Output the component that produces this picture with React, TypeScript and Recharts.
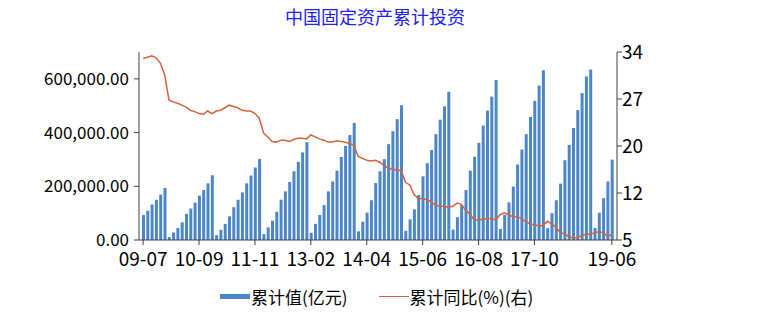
import React from 'react';
import { ComposedChart, Bar, Line, XAxis, YAxis } from 'recharts';

// month labels, Jan is never reported on its own (Jan-Feb combined)
const MONTHS_2009 = ['07', '08', '09', '10', '11', '12'];
const MONTHS_YEAR = ['02', '03', '04', '05', '06', '07', '08', '09', '10', '11', '12'];
const MONTHS_2019 = ['02', '03', '04', '05', '06'];
const FULL_YEARS = ['10', '11', '12', '13', '14', '15', '16', '17', '18'];

const CATEGORIES: string[] = [
  ...MONTHS_2009.map((m) => `09-${m}`),
  ...FULL_YEARS.flatMap((y) => MONTHS_YEAR.map((m) => `${y}-${m}`)),
  ...MONTHS_2019.map((m) => `19-${m}`),
];

// 累计值 (亿元)
const CUM_VALUE = [
  93000, 109000, 132000, 150000, 169000, 194000, // 2009
  11000, 28000, 45000, 66000, 97000, 117000, 139000, 165000, 186000, 211000, 241000, // 2010
  18000, 38000, 60000, 88000, 122000, 150000, 177000, 211000, 240000, 270000, 302000, // 2011
  22000, 47000, 72000, 105000, 150000, 181000, 216000, 256000, 291000, 326000, 364000, // 2012
  27000, 60000, 93000, 130000, 181000, 218000, 258000, 309000, 350000, 391000, 436000, // 2013
  32000, 68000, 102000, 148000, 212000, 256000, 301000, 357000, 405000, 450000, 502000, // 2014
  34000, 77000, 114000, 167000, 237000, 286000, 335000, 394000, 448000, 498000, 552000, // 2015
  39000, 85000, 130000, 186000, 258000, 310000, 362000, 426000, 482000, 534000, 596000, // 2016
  41000, 94000, 140000, 199000, 281000, 337000, 394000, 458000, 518000, 575000, 632000, // 2017
  44000, 100000, 148000, 210000, 297000, 354000, 417000, 484000, 547000, 609000, 635000, // 2018
  44800, 101900, 155700, 218000, 299100, // 2019
];

// 累计同比 (%)
const CUM_YOY = [
  33.0, 33.2, 33.4, 33.1, 32.3, 30.5,
  26.6, 26.3, 26.1, 25.8, 25.5, 25.0, 24.8, 24.5, 24.4, 24.9, 24.5,
  24.9, 25.0, 25.4, 25.8, 25.6, 25.4, 25.0, 24.9, 24.9, 24.5, 23.8,
  21.5, 20.9, 20.2, 20.1, 20.4, 20.4, 20.2, 20.5, 20.7, 20.7, 20.6,
  21.2, 20.9, 20.6, 20.4, 20.1, 20.1, 20.3, 20.2, 20.1, 19.9, 19.6,
  17.9, 17.6, 17.3, 17.2, 17.3, 17.0, 16.5, 16.1, 15.9, 15.8, 15.7,
  13.9, 13.5, 12.0, 11.4, 11.4, 11.2, 10.9, 10.3, 10.2, 10.2, 10.0,
  10.2, 10.7, 10.5, 9.6, 9.0, 8.1, 8.1, 8.2, 8.3, 8.3, 8.1,
  8.9, 9.2, 8.9, 8.6, 8.6, 8.3, 7.8, 7.5, 7.3, 7.2, 7.2,
  7.9, 7.5, 7.0, 6.1, 6.0, 5.5, 5.3, 5.4, 5.7, 5.9, 5.9,
  6.1, 6.3, 6.1, 5.6, 5.8,
];

const X_TICKS = ['09-07', '10-09', '11-11', '13-02', '14-04', '15-06', '16-08', '17-10', '19-06'];
const LEFT_TICKS = [0, 200000, 400000, 600000];
const RIGHT_TICKS = [5, 12.25, 19.5, 26.75, 34];

const LEFT_MINOR = Array.from({ length: 22 }, (_, i) => (i * 700000) / 21);
const RIGHT_MINOR = Array.from({ length: 13 }, (_, i) => 5 + (i * 29) / 12);

const data = CATEGORIES.map((month, i) => ({ month, value: CUM_VALUE[i], yoy: CUM_YOY[i] }));

const AXIS = '#404040';
const BAR_COLOR = '#4A86C8';
const LINE_COLOR = '#D8603A';
const FONT = '"Noto Sans CJK SC", "Noto Sans", sans-serif';

const fmtLeft = (v: number) => v.toLocaleString('en-US', { minimumFractionDigits: 2, maximumFractionDigits: 2 });

export default function App() {
  return (
    <div style={{ position: 'absolute', left: 0, top: 0, width: 767, height: 334, background: '#fff', fontFamily: FONT }}>
      <div style={{ position: 'absolute', top: 3, left: 0, width: 750, textAlign: 'center', fontSize: 18, color: '#2020F0' }}>
        中国固定资产累计投资
      </div>
      <ComposedChart width={767} height={334} data={data} margin={{ top: 52, right: 0, bottom: 64, left: 0 }}>
        <XAxis
          dataKey="month"
          ticks={X_TICKS}
          interval={0}
          tickSize={5}
          tickMargin={8}
          padding={{ left: 2, right: 3 }}
          height={30}
          axisLine={{ stroke: AXIS }}
          tickLine={{ stroke: AXIS }}
          tick={{ fill: '#000', fontSize: 19 }}
        />
        <YAxis
          yAxisId="leftMinor"
          width={0}
          domain={[0, 700000]}
          ticks={LEFT_MINOR}
          tick={false}
          tickSize={3}
          axisLine={false}
          tickLine={{ stroke: AXIS }}
        />
        <YAxis
          yAxisId="left"
          width={139}
          domain={[0, 700000]}
          ticks={LEFT_TICKS}
          tickFormatter={fmtLeft}
          tickSize={5}
          tickMargin={5}
          axisLine={{ stroke: AXIS }}
          tickLine={{ stroke: AXIS }}
          tick={{ fill: '#000', fontSize: 17 }}
        />
        <YAxis
          yAxisId="rightMinor"
          orientation="right"
          width={0}
          domain={[5, 34]}
          ticks={RIGHT_MINOR}
          tick={false}
          tickSize={3}
          axisLine={false}
          tickLine={{ stroke: AXIS }}
        />
        <YAxis
          yAxisId="right"
          orientation="right"
          width={150}
          domain={[5, 34]}
          ticks={RIGHT_TICKS}
          tickFormatter={(v: number) => String(Math.round(v))}
          tickSize={5}
          tickMargin={0}
          axisLine={{ stroke: AXIS }}
          tickLine={{ stroke: AXIS }}
          tick={{ fill: '#000', fontSize: 19 }}
        />
        <Bar yAxisId="left" dataKey="value" fill={BAR_COLOR} barSize={3} isAnimationActive={false} />
        <Line
          yAxisId="right"
          dataKey="yoy"
          type="linear"
          stroke={LINE_COLOR}
          strokeWidth={1.5}
          dot={false}
          isAnimationActive={false}
        />
      </ComposedChart>
      <div style={{ position: 'absolute', top: 284, left: 220, display: 'flex', alignItems: 'center', fontSize: 17, color: '#000' }}>
        <span style={{ display: 'inline-block', width: 30, height: 5, background: BAR_COLOR, marginRight: 1 }} />
        <span>累计值(亿元)</span>
        <span style={{ display: 'inline-block', width: 30, height: 1.5, background: LINE_COLOR, marginLeft: 31, marginRight: 1 }} />
        <span>累计同比(%)(右)</span>
      </div>
    </div>
  );
}
